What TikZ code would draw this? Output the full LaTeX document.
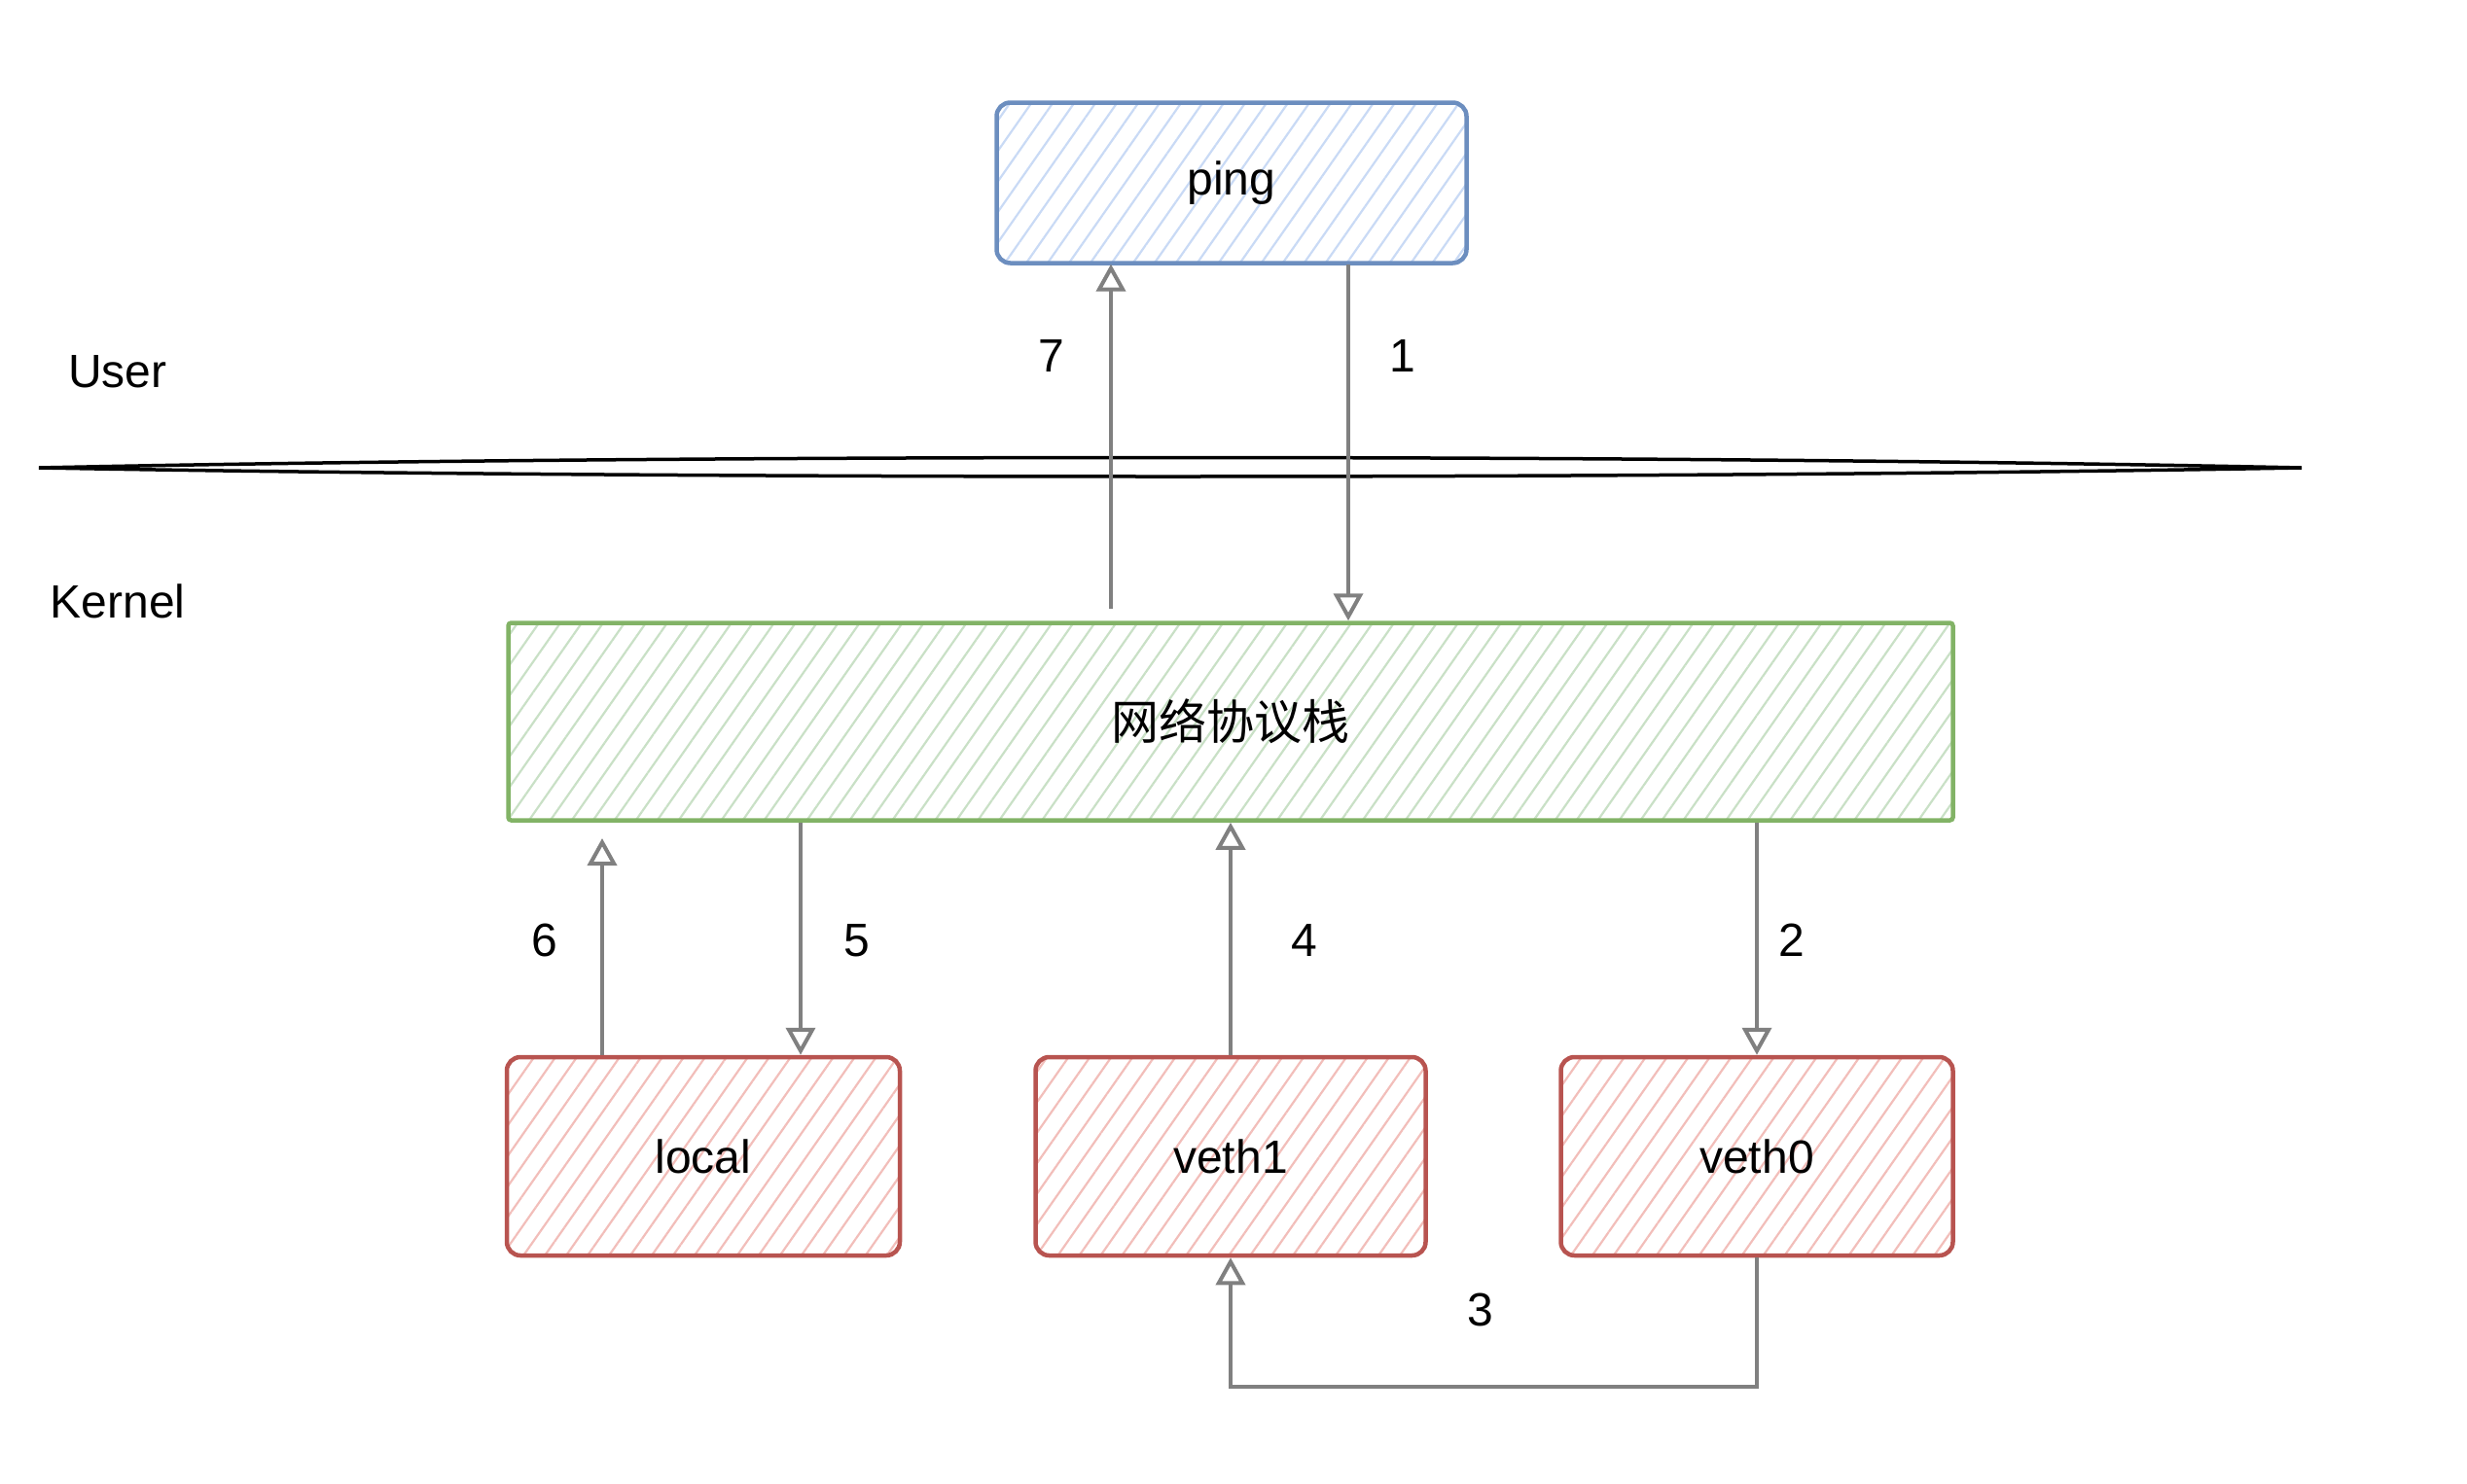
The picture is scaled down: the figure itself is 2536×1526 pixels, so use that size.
\documentclass[tikz,border=0pt]{standalone}
\usepackage{fontspec}
\setmainfont{Liberation Sans}
\newfontfamily\cjk{Noto Sans CJK SC}
\usetikzlibrary{arrows.meta,patterns.meta}
\definecolor{blueS}{HTML}{6C8EBF}
\definecolor{blueF}{HTML}{C9DAF5}
\definecolor{greenS}{HTML}{82B366}
\definecolor{greenF}{HTML}{C9E0C6}
\definecolor{redS}{HTML}{B85450}
\definecolor{redF}{HTML}{F2BEBA}
\definecolor{arrG}{HTML}{808080}
\tikzset{
  box/.style={draw, line width=4.5pt, rounded corners=14pt, inner sep=0pt, font=\fontsize{48}{56}\selectfont},
  bluebox/.style={box, draw=blueS, pattern={Lines[angle=55,distance=18pt,line width=2.2pt]}, pattern color=blueF},
  greenbox/.style={box, draw=greenS, rounded corners=3pt, pattern={Lines[angle=55,distance=18pt,line width=2.2pt]}, pattern color=greenF},
  redbox/.style={box, draw=redS, pattern={Lines[angle=55,distance=18pt,line width=2.2pt]}, pattern color=redF},
  arr/.style={draw=arrG, line width=4pt, -{Triangle[open,length=28pt,width=30pt,line width=4pt]}},
  lbl/.style={font=\fontsize{48}{56}\selectfont, inner sep=0pt},
}
\begin{document}
\begin{tikzpicture}[x=1pt,y=-1pt]
\useasboundingbox (0,0) rectangle (2536,1526);
% boxes
\node[bluebox, minimum width=483pt, minimum height=165pt] (ping) at (1266,188) {ping};
\node[greenbox, minimum width=1485pt, minimum height=203pt] (stack) at (1265,742) {\cjk\fontsize{49}{58}\selectfont 网络协议栈};
\node[redbox, minimum width=404pt, minimum height=204pt] (local) at (723,1189) {local};
\node[redbox, minimum width=401pt, minimum height=204pt] (veth1) at (1265,1189) {veth1};
\node[redbox, minimum width=403pt, minimum height=204pt] (veth0) at (1806,1189) {veth0};
% user/kernel labels
\node[lbl] (user) at (121,382) {User};
\node[lbl] (kernel) at (121,618) {Kernel};
% divider
\coordinate (dl) at (40,481);
\coordinate (dr) at (2366,481);
\draw[line width=3.5pt] (dl) .. controls (700,467) and (1700,467) .. (dr)
  .. controls (1700,493) and (700,493) .. (dl);
% arrows
\coordinate (s7) at (1142,626);
\coordinate (s6) at (619,862);
\draw[arr] (s7) -- (ping.south -| s7);
\draw[arr] (ping.south -| 1386,0) -- (stack.north -| 1386,0);
\draw[arr] (local.north -| s6) -- (s6);
\draw[arr] (stack.south -| 823,0) -- (local.north -| 823,0);
\draw[arr] (veth1.north) -- (stack.south -| veth1.north);
\draw[arr] (stack.south -| veth0.north) -- (veth0.north);
\coordinate (b3) at (1806,1426);
\draw[arr] (veth0.south) -- (b3) -- (b3 -| veth1.south) -- (veth1.south);
% numbers
\node[lbl] (n7) at (1081,366) {7};
\node[lbl] (n1) at (1442,366) {1};
\node[lbl] (n6) at (560,967) {6};
\node[lbl] (n5) at (881,967) {5};
\node[lbl] (n4) at (1341,967) {4};
\node[lbl] (n2) at (1842,967) {2};
\node[lbl] (n3) at (1522,1347) {3};
\end{tikzpicture}
\end{document}
